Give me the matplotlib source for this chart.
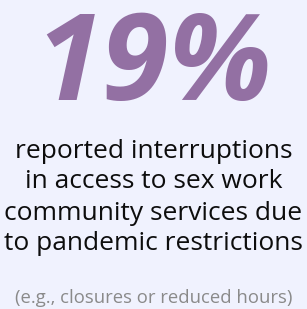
import matplotlib
matplotlib.use("Agg")
import matplotlib.pyplot as plt

# contenu du graphique
valeur = "19%"
lignes = ["reported interruptions",
          "in access to sex work",
          "community services due",
          "to pandemic restrictions"]
note = "(e.g., closures or reduced hours)"

W, H = 307, 309
fig = plt.figure(figsize=(W / 100, H / 100), dpi=100, facecolor="#f0f2fe")

def py(y):
    # pixel (depuis le haut) -> fraction de figure
    return 1 - y / H

fig.text(0.5, py(100), valeur, ha="center", va="baseline", fontsize=87,
         fontweight="bold", fontstyle="italic", color="#9370a3",
         family="Open Sans")

for i, ligne in enumerate(lignes):
    fig.text(0.5, py(151 + i * 31), ligne, ha="center", va="center",
             fontsize=19, color="#0d0d0d", family="Open Sans")

fig.text(0.5, py(298), note, ha="center", va="center", fontsize=13.3,
         color="#8a8a8a", family="Open Sans")

fig.savefig("out.png", dpi=100, facecolor=fig.get_facecolor())
